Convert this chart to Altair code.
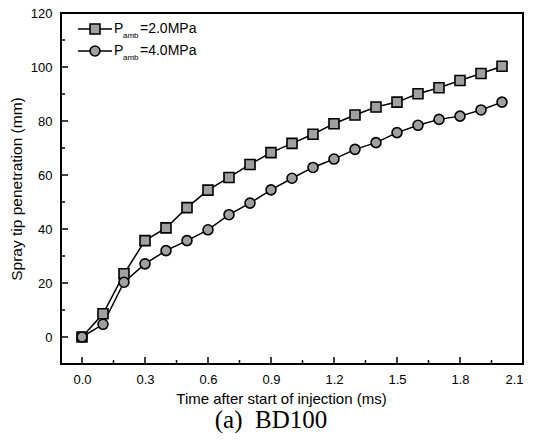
import altair as alt
import pandas as pd

# ---- data ----
time_ms = [0.0, 0.1, 0.2, 0.3, 0.4, 0.5, 0.6, 0.7, 0.8, 0.9, 1.0,
           1.1, 1.2, 1.3, 1.4, 1.5, 1.6, 1.7, 1.8, 1.9, 2.0]
pen_2mpa = [0.0, 8.6, 23.4, 35.7, 40.4, 47.9, 54.4, 59.1, 63.9, 68.3, 71.7,
            75.1, 79.0, 82.2, 85.2, 87.0, 90.1, 92.3, 95.0, 97.6, 100.3]
pen_4mpa = [0.0, 4.7, 20.3, 27.1, 32.0, 35.7, 39.7, 45.3, 49.6, 54.5, 58.8,
            62.8, 65.9, 69.5, 72.0, 75.7, 78.4, 80.6, 81.8, 84.1, 87.0]
series_names = ["2.0MPa", "4.0MPa"]

x_major = [0.0, 0.3, 0.6, 0.9, 1.2, 1.5, 1.8, 2.1]
x_minor = [0.15, 0.45, 0.75, 1.05, 1.35, 1.65, 1.95]
y_major = [0, 20, 40, 60, 80, 100, 120]
y_minor = [10, 30, 50, 70, 90, 110]

x_title = "Time after start of injection (ms)"
y_title = "Spray tip penetration (mm)"
caption = "(a)\u00a0\u00a0BD100"

# ---- tables ----
df = pd.concat([
    pd.DataFrame({"t": time_ms, "pen": pen_2mpa, "s": series_names[0]}),
    pd.DataFrame({"t": time_ms, "pen": pen_4mpa, "s": series_names[1]}),
])
df_xmaj = pd.DataFrame({"t": x_major})
df_xmin = pd.DataFrame({"t": x_minor})
df_ymaj = pd.DataFrame({"pen": y_major})
df_ymin = pd.DataFrame({"pen": y_minor})
df_one = pd.DataFrame({"k": [0]})

W, H = 462, 351
FONT = "Liberation Sans"
FILL = "#a0a0a0"

xs = alt.Scale(domain=[-0.1, 2.1], nice=False, zero=False)
ys = alt.Scale(domain=[-10, 120], nice=False, zero=False)

ax_x = alt.Axis(values=x_major, format=".1f", ticks=False, domain=False,
                grid=False, labelPadding=9, labelFontSize=13, labelFont=FONT,
                labelColor="black", titleFont=FONT, titleFontSize=15,
                titleFontWeight="normal", titleColor="black", titlePadding=5,
                titleX=220)
ax_y = alt.Axis(values=y_major, format="d", ticks=False, domain=False,
                grid=False, labelPadding=9, labelFontSize=13, labelFont=FONT,
                labelColor="black", titleFont=FONT, titleFontSize=15.5,
                titleFontWeight="normal", titleColor="black", titlePadding=6)

X = lambda: alt.X("t:Q", scale=xs, title=x_title, axis=ax_x)
Y = lambda: alt.Y("pen:Q", scale=ys, title=y_title, axis=ax_y)

shape_scale = alt.Scale(domain=series_names, range=["square", "circle"])

lines = alt.Chart(df).mark_line(color="black", strokeWidth=1.5).encode(
    x=X(), y=Y(), detail="s:N")

points = alt.Chart(df).mark_point(filled=True, size=100, fill=FILL, stroke="black",
                                  strokeWidth=1.6, opacity=1).encode(
    x=X(), y=Y(),
    shape=alt.Shape("s:N", scale=shape_scale, legend=None),
)

def xticks(d, length):
    return alt.Chart(d).mark_rule(color="black", strokeWidth=1.5).encode(
        x=X(), y=alt.value(H), y2=alt.value(H - length))

def yticks(d, length):
    return alt.Chart(d).mark_rule(color="black", strokeWidth=1.5).encode(
        y=Y(), x=alt.value(0), x2=alt.value(length))

# ---- custom legend (with subscript) ----
leg_layers = []
for i, name in enumerate(series_names):
    yy = 16 + 22 * i
    leg_layers.append(alt.Chart(df_one).mark_rule(color="black", strokeWidth=1.5).encode(
        x=alt.value(17), x2=alt.value(51), y=alt.value(yy)))
    leg_layers.append(alt.Chart(df_one).mark_point(
        filled=True, size=100, fill=FILL, stroke="black", strokeWidth=1.6, opacity=1,
        shape=["square", "circle"][i]).encode(x=alt.value(34), y=alt.value(yy)))
    leg_layers.append(alt.Chart(df_one).mark_text(
        text="P", font=FONT, fontSize=14, align="left", baseline="middle", color="black").encode(
        x=alt.value(53), y=alt.value(yy)))
    leg_layers.append(alt.Chart(df_one).mark_text(
        text="amb", font=FONT, fontSize=8, align="left", baseline="middle", color="black").encode(
        x=alt.value(62), y=alt.value(yy + 7)))
    leg_layers.append(alt.Chart(df_one).mark_text(
        text="=" + name, font=FONT, fontSize=14, align="left", baseline="middle", color="black").encode(
        x=alt.value(79), y=alt.value(yy)))

cap = alt.Chart(df_one).mark_text(
    text=caption, font="Liberation Serif", fontSize=25, align="center", baseline="middle",
    color="black").encode(x=alt.value(210), y=alt.value(407))

chart = alt.layer(
    lines, points,
    xticks(df_xmaj, 7), xticks(df_xmin, 4),
    yticks(df_ymaj, 7), yticks(df_ymin, 4),
    *leg_layers, cap,
).properties(
    width=W, height=H,
    padding={"left": 53, "top": 5, "right": 14, "bottom": 69},
    autosize=alt.AutoSizeParams(type="none"),
    background="white",
).configure_view(
    stroke="black", strokeWidth=2,
)

chart.save("out.html", embed_options={"renderer": "svg", "actions": False})
